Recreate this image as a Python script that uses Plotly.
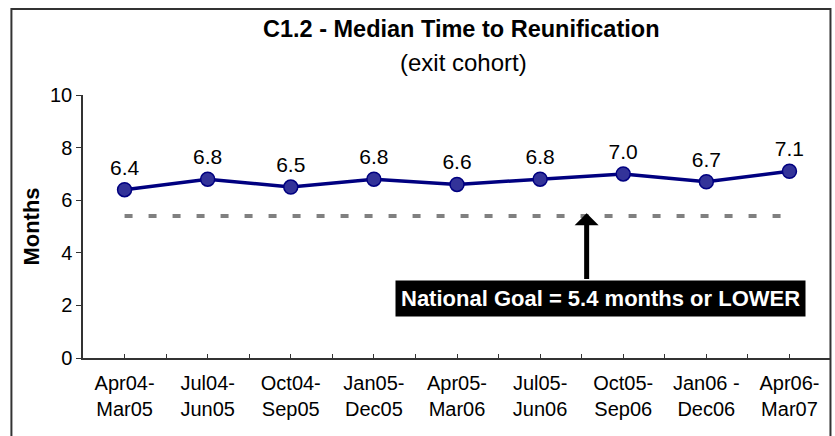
import plotly.graph_objects as go

periods = ["Apr04-<br>Mar05", "Jul04-<br>Jun05", "Oct04-<br>Sep05", "Jan05-<br>Dec05",
           "Apr05-<br>Mar06", "Jul05-<br>Jun06", "Oct05-<br>Sep06", "Jan06 -<br>Dec06",
           "Apr06-<br>Mar07"]
median_months = [6.4, 6.8, 6.5, 6.8, 6.6, 6.8, 7.0, 6.7, 7.1]
national_goal = 5.4
goal_values = [national_goal] * len(periods)

FONT = "Liberation Sans, Arial, sans-serif"

fig = go.Figure()

# national goal dashed line
fig.add_trace(go.Scatter(
    x=periods, y=goal_values, mode="lines",
    line=dict(color="#808080", width=4, dash="8px,16px"),
    hoverinfo="skip", showlegend=False,
))

# median series
fig.add_trace(go.Scatter(
    x=periods, y=median_months, mode="lines+markers+text",
    line=dict(color="#000080", width=3.5),
    marker=dict(size=14, color="#333399", line=dict(color="#000080", width=1.5)),
    text=[f"{v:.1f}" for v in median_months],
    textposition="top center",
    textfont=dict(family=FONT, size=21, color="black"),
    showlegend=False,
))

# invisible overlay axis for half-category tick marks
fig.add_trace(go.Scatter(x=[0], y=[0], xaxis="x2", mode="markers",
                         marker=dict(opacity=0), hoverinfo="skip", showlegend=False))

fig.update_layout(
    width=835, height=436,
    margin=dict(l=83, r=4, t=95, b=78, autoexpand=False),
    paper_bgcolor="white", plot_bgcolor="white",
    font=dict(family=FONT, color="black"),
    xaxis=dict(
        type="category", range=[-0.5, len(periods) - 0.5], automargin=False,
        showline=True, linecolor="#333333", linewidth=1.5,
        ticks="", showgrid=False, zeroline=False, ticklabelstandoff=6,
        tickfont=dict(family=FONT, size=20, color="black"),
    ),
    xaxis2=dict(
        overlaying="x", range=[-0.5, len(periods) - 0.5], dtick=0.5, tick0=-0.5,
        ticks="inside", ticklen=4, tickcolor="#333333", tickwidth=1, automargin=False,
        showticklabels=False, showgrid=False, zeroline=False, showline=False,
    ),
    yaxis=dict(
        range=[0, 10], dtick=2, automargin=False,
        showline=True, linecolor="#333333", linewidth=1.5,
        ticks="outside", ticklen=5, tickcolor="#333333",
        showgrid=False, zeroline=False,
        tickfont=dict(family=FONT, size=20, color="black"),
        title=dict(text="<b>Months</b>", font=dict(family=FONT, size=22), standoff=4),
    ),
    shapes=[dict(type="rect", xref="paper", yref="paper",
                 x0=-0.0957, x1=0.9993, y0=-0.45, y1=1.327,
                 line=dict(color="#333333", width=2), fillcolor="rgba(0,0,0,0)", layer="above")],
)

# title and subtitle
fig.add_annotation(x=0.506, y=1.251, xref="paper", yref="paper", xanchor="center", yanchor="middle",
                   text="<b>C1.2 - Median Time to Reunification</b>", showarrow=False,
                   font=dict(family=FONT, size=23.5, color="black"))
fig.add_annotation(x=0.509, y=1.125, xref="paper", yref="paper", xanchor="center", yanchor="middle",
                   text="(exit cohort)", showarrow=False,
                   font=dict(family=FONT, size=24, color="black"))

# arrow pointing to goal line
fig.add_annotation(
    x=5.56, y=5.5, xref="x", yref="y",
    ax=5.56, ay=2.95, axref="x", ayref="y",
    text="", showarrow=True, arrowhead=1, arrowsize=0.8, arrowwidth=5, arrowcolor="black",
)
# goal text box
fig.add_annotation(
    x=0.692, y=0.228, xref="paper", yref="paper", xanchor="center", yanchor="middle",
    text="<b>National Goal = 5.4 months or LOWER</b>", showarrow=False,
    font=dict(family=FONT, size=22, color="white"),
    bgcolor="black", borderpad=5,
)

fig.write_html("out.html", config={"displayModeBar": False},
               post_script="document.body.style.margin='0px';")
